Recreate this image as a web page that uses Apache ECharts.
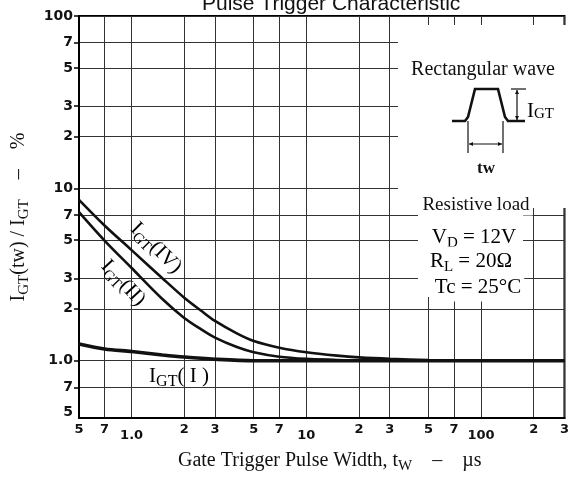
<!DOCTYPE html>
<html><head><meta charset="utf-8">
<script src="https://cdn.jsdelivr.net/npm/echarts@6/dist/echarts.min.js"></script>
<style>html,body{margin:0;padding:0;background:#fff}#c{width:572px;height:479px}</style>
</head><body><div id="c"></div>
<script>
// ---- axis ticks / labels ----
const xTickValues = [0.5, 0.7, 1, 2, 3, 5, 7, 10, 20, 30, 50, 70, 100, 200, 300];
const xTickLabels = ['5', '7', '1.0', '2', '3', '5', '7', '10', '2', '3', '5', '7', '100', '2', '3'];
const xDecadeLabels = ['1.0', '10', '100'];
const yGridValues = [0.7, 1, 2, 3, 5, 7, 10, 20, 30, 50, 70, 100];
const yTickValues = [0.5, 0.7, 1, 2, 3, 5, 7, 10, 20, 30, 50, 70, 100];
const yTickLabels = ['5', '7', '1.0', '2', '3', '5', '7', '10', '2', '3', '5', '7', '100'];

// ---- series data (pulse width µs, ratio) ----
const tw_IV  = [0.5, 0.7, 1.0, 1.5, 2.0, 2.5, 3, 4, 5, 7, 10, 15, 20, 30, 50, 100, 300];
const igt_IV = [8.58, 6.09, 4.38, 3.01, 2.32, 1.95, 1.70, 1.44, 1.30, 1.19, 1.12, 1.07, 1.045, 1.025, 1.01, 1.0, 1.0];
const tw_II  = [0.5, 0.7, 1.0, 1.5, 2.0, 2.5, 3, 4, 5, 7, 10, 15, 20, 300];
const igt_II = [7.28, 4.98, 3.45, 2.28, 1.77, 1.52, 1.36, 1.20, 1.12, 1.055, 1.025, 1.01, 1.0, 1.0];
const tw_I   = [0.5, 0.7, 1.0, 1.5, 2, 3, 5, 10, 300];
const igt_I  = [1.25, 1.17, 1.13, 1.08, 1.05, 1.02, 1.0, 1.0, 1.0];

const zip = (a, b) => a.map((v, i) => [v, b[i]]);
const nearest = (vals, labels) => v => {
  let best = 0, bd = Infinity;
  vals.forEach((t, i) => { const d = Math.abs(Math.log10(t) - Math.log10(v)); if (d < bd) { bd = d; best = i; } });
  return labels[best];
};
const xLab = nearest(xTickValues, xTickLabels);
const yLab = nearest(yTickValues, yTickLabels);

const serif = 'Liberation Serif';
const subRich = (f, s) => ({
  i: { fontFamily: serif, fontSize: f, lineHeight: f + 6, verticalAlign: 'middle', color: '#111' },
  s: { fontFamily: serif, fontSize: s, lineHeight: s + 1, verticalAlign: 'bottom', color: '#111' }
});

const chart = echarts.init(document.getElementById('c'), null, { renderer: 'canvas' });
const gridColor = '#333';
const lineBlack = '#111';

const arrow = (x, y, dir) => {
  const s = 4, w = 2;
  let pts;
  if (dir === 'up') pts = [[x, y], [x - w, y + s], [x + w, y + s]];
  if (dir === 'down') pts = [[x, y], [x - w, y - s], [x + w, y - s]];
  if (dir === 'left') pts = [[x, y], [x + s, y - w], [x + s, y + w]];
  if (dir === 'right') pts = [[x, y], [x - s, y - w], [x - s, y + w]];
  return { type: 'polygon', z: 4, shape: { points: pts }, style: { fill: '#111' } };
};
const seg = (x1, y1, x2, y2, w) => ({ type: 'line', z: 4, shape: { x1, y1, x2, y2 }, style: { stroke: '#111', lineWidth: w || 1.2 } });
const whiteText = (text, x, y, rich, extra) => Object.assign({
  type: 'text', z: 5, x, y,
  style: Object.assign({ text, rich, align: 'center', verticalAlign: 'middle', backgroundColor: '#fff', padding: [1, 3, 1, 3] }, extra || {})
});

chart.setOption({
  animation: false,
  backgroundColor: '#fff',
  title: {
    text: 'Pulse Trigger Characteristic',
    left: 197, top: -11,
    textStyle: { fontFamily: 'Liberation Sans', fontSize: 21, fontWeight: 'normal', color: '#111' }
  },
  grid: { left: 79, right: 1, top: 16, bottom: 60, show: true, borderColor: '#000', borderWidth: 2, backgroundColor: 'transparent' },
  xAxis: {
    type: 'log', logBase: 10, min: 0.5, max: 300,
    name: '{i|Gate Trigger Pulse Width, t}{s|W}{i|    –    µs}',
    nameLocation: 'middle', nameGap: 30,
    nameTextStyle: { rich: subRich(20, 15), padding: [0, 0, 0, 16] },
    axisLine: { show: true, lineStyle: { color: '#000', width: 2 } },
    axisTick: { show: false, customValues: xTickValues },
    axisLabel: {
      customValues: xTickValues, margin: 5,
      formatter: v => { const t = xLab(v); return xDecadeLabels.includes(t) ? '{d|' + t + '}' : '{n|' + t + '}'; },
      rich: {
        n: { fontFamily: 'DejaVu Sans', fontWeight: 'bold', fontSize: 13, color: '#111' },
        d: { fontFamily: 'DejaVu Sans', fontWeight: 'bold', fontSize: 13, color: '#111', padding: [6, 0, 0, 0] }
      }
    },
    splitLine: { show: true, lineStyle: { color: gridColor, width: 1 } },
    minorTick: { show: false }, minorSplitLine: { show: false }
  },
  yAxis: {
    type: 'log', logBase: 10, min: 0.465, max: 100,
    name: '{i|I}{s|GT}{i|(tw) / I}{s|GT}{i|    –    %}',
    nameLocation: 'middle', nameGap: 47, nameRotate: 90,
    nameTextStyle: { rich: subRich(20, 15) },
    axisLine: { show: true, lineStyle: { color: '#000', width: 2 } },
    axisTick: { show: true, inside: false, length: 5, customValues: yGridValues, lineStyle: { color: '#000', width: 1.5 } },
    axisLabel: {
      customValues: yTickValues, margin: 6,
      formatter: v => yLab(v),
      fontFamily: 'DejaVu Sans', fontWeight: 'bold', fontSize: 14, color: '#111'
    },
    splitLine: { show: true, lineStyle: { color: gridColor, width: 1 } },
    minorTick: { show: false }, minorSplitLine: { show: false }
  },
  series: [
    { name: 'IGT(IV)', type: 'line', data: zip(tw_IV, igt_IV), smooth: 0.3, symbol: 'none', z: 6,
      lineStyle: { color: lineBlack, width: 2.6 } },
    { name: 'IGT(II)', type: 'line', data: zip(tw_II, igt_II), smooth: 0.3, symbol: 'none', z: 6,
      lineStyle: { color: lineBlack, width: 2.6 } },
    { name: 'IGT(I)', type: 'line', data: zip(tw_I, igt_I), smooth: 0.3, symbol: 'none', z: 6,
      lineStyle: { color: lineBlack, width: 3.6 } }
  ],
  graphic: [
    { type: 'rect', z: 1, shape: { x: 398, y: 25, width: 168, height: 183 }, style: { fill: '#fff' } },
    { type: 'rect', z: 1, shape: { x: 418, y: 208, width: 105, height: 89 }, style: { fill: '#fff' } },
    { type: 'polyline', z: 4, shape: { points: [[452, 121], [465, 121], [468, 117], [475, 89], [498, 89], [505, 117], [508, 121], [525, 121]] },
      style: { stroke: '#111', lineWidth: 2.6, fill: null } },
    seg(511, 89, 526, 89, 1.2),
    seg(517, 90, 517, 120, 1.2), arrow(517, 90, 'up'), arrow(517, 120, 'down'),
    seg(468, 121, 468, 153, 1.2), seg(503, 121, 503, 153, 1.2),
    seg(469, 144, 502, 144, 1.2), arrow(469, 144, 'left'), arrow(502, 144, 'right'),
    { type: 'text', z: 5, x: 527, y: 110, style: { text: '{a|I}{b|GT}', align: 'left', verticalAlign: 'middle',
      rich: { a: { fontFamily: serif, fontSize: 21, lineHeight: 24, verticalAlign: 'bottom', color: '#111' },
              b: { fontFamily: serif, fontSize: 15, lineHeight: 18, verticalAlign: 'bottom', color: '#111' } } } },
    { type: 'text', z: 5, x: 486, y: 169, style: { text: 'tw', align: 'center', verticalAlign: 'middle',
      fontFamily: serif, fontWeight: 'bold', fontSize: 17, fill: '#111' } },
    whiteText('Rectangular wave', 483, 70, null, { fontFamily: serif, fontSize: 20, fill: '#111' }),
    whiteText('Resistive load', 476, 205, null, { fontFamily: serif, fontSize: 19, fill: '#111' }),
    whiteText('{i|V}{s|D}{i| = 12V}', 474, 237, subRich(21, 15)),
    whiteText('{i|R}{s|L}{i| = 20Ω}', 471, 261, subRich(21, 15)),
    whiteText('{i|Tc = 25°C}', 478, 287, subRich(21, 15)),
    { type: 'text', z: 5, x: 156, y: 248, rotation: -0.78,
      style: { text: '{i|I}{s|GT}{i|(IV)}', rich: subRich(21, 15), align: 'center', verticalAlign: 'middle' } },
    { type: 'text', z: 5, x: 123, y: 283, rotation: -0.82,
      style: { text: '{i|I}{s|GT}{i|(II)}', rich: subRich(21, 15), align: 'center', verticalAlign: 'middle' } },
    { type: 'text', z: 5, x: 179, y: 376,
      style: { text: '{i|I}{s|GT}{i|( I )}', rich: subRich(21, 16), align: 'center', verticalAlign: 'middle' } }
  ]
});
</script></body></html>
